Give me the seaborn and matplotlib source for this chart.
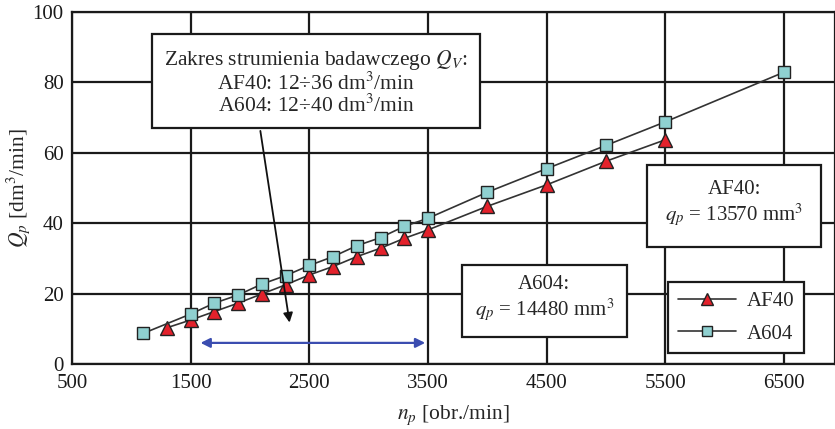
import matplotlib
matplotlib.use("Agg")
import matplotlib.pyplot as plt
import seaborn as sns
import pandas as pd

# ---- data ----
n_af40 = [1300, 1500, 1700, 1900, 2100, 2300, 2500, 2700, 2900, 3100, 3300, 3500, 4000, 4500, 5000, 5500]
q_af40 = [10.3, 12.5, 14.9, 17.3, 19.9, 22.5, 25.3, 27.7, 30.5, 32.9, 35.7, 38.1, 44.8, 50.9, 57.6, 63.7]
n_a604 = [1100, 1500, 1700, 1900, 2100, 2300, 2500, 2700, 2900, 3100, 3300, 3500, 4000, 4500, 5000, 5500, 6500]
q_a604 = [8.7, 14.2, 17.3, 19.6, 22.7, 25.1, 28.0, 30.5, 33.6, 35.9, 39.1, 41.4, 48.8, 55.5, 62.1, 68.8, 82.9]
x_ticks = [500, 1500, 2500, 3500, 4500, 5500, 6500]
y_ticks = [0, 20, 40, 60, 80, 100]

sns.set_theme(style="white")
plt.rcParams['font.family'] = ['Liberation Serif', 'DejaVu Serif']
plt.rcParams['mathtext.fontset'] = 'stix'

df1 = pd.DataFrame({"n": n_af40, "Q": q_af40})
df2 = pd.DataFrame({"n": n_a604, "Q": q_a604})

fig = plt.figure(figsize=(8.35, 4.29), dpi=100)
ax = fig.add_axes([0.0862, 0.1515, 0.9138, 0.8205])

sns.lineplot(data=df1, x="n", y="Q", ax=ax, color="#333333", lw=1.2,
             marker="^", markersize=10, markerfacecolor="#e3212b",
             markeredgecolor="#222222", markeredgewidth=1.0, label="AF40", zorder=4)
sns.lineplot(data=df2, x="n", y="Q", ax=ax, color="#333333", lw=1.2,
             marker="s", markersize=9, markerfacecolor="#8fd0d0",
             markeredgecolor="#222222", markeredgewidth=1.0, label="A604", zorder=4)

ax.set_xlim(500, 6930)
ax.set_ylim(0, 100)
ax.set_xticks(x_ticks)
ax.set_yticks(y_ticks)
ax.grid(True, color="#1a1a1a", lw=1.6)
ax.set_axisbelow(True)
for s in ax.spines.values():
    s.set_color("#1a1a1a")
    s.set_linewidth(1.6)
ax.tick_params(axis="both", labelsize=15, length=0, colors="#1a1a1a")
ax.tick_params(axis="x", pad=7)
ax.tick_params(axis="y", pad=6)

ax.set_xlabel(r"$n_p$ [obr./min]", fontsize=15.5, labelpad=8)
ax.set_ylabel(r"$Q_p$ [dm$^3$/min]", fontsize=15.5)
ax.yaxis.set_label_coords(-0.053, 0.5)

ax.text(2556, 80, "Zakres strumienia badawczego $Q_V$:\nAF40: 12÷36 dm$^3$/min\nA604: 12÷40 dm$^3$/min",
        ha="center", va="center", fontsize=15.5, bbox=dict(boxstyle="square,pad=0.55", fc="white", ec="#1a1a1a", lw=1.6),
        linespacing=1.0, zorder=6)
ax.text(6081, 45.4, "AF40:\n$q_p$ = 13570 mm$^3$", ha="center", va="center", linespacing=1.15,
        fontsize=15, bbox=dict(boxstyle="square,pad=0.85", fc="white", ec="#1a1a1a", lw=1.6), zorder=6)
ax.text(4481, 18.3, "A604:\n$q_p$ = 14480 mm$^3$", ha="center", va="center", linespacing=1.15,
        fontsize=15, bbox=dict(boxstyle="square,pad=0.6", fc="white", ec="#1a1a1a", lw=1.6), zorder=6)

ax.annotate("", xy=(2337, 11.0), xytext=(2084, 67.0),
            arrowprops=dict(arrowstyle="-|>", color="#111111", lw=1.3, mutation_scale=14), zorder=5)
ax.annotate("", xy=(3500, 6.0), xytext=(1560, 6.0),
            arrowprops=dict(arrowstyle="<|-|>", color="#3b4db0", lw=1.6, mutation_scale=14), zorder=5)

leg = ax.legend(loc="lower left", bbox_to_anchor=(0.768, 0.002), fontsize=15, frameon=True,
                fancybox=False, framealpha=1, edgecolor="#1a1a1a", borderpad=0.45,
                labelspacing=0.6, handlelength=2.8, handletextpad=0.5, markerscale=0.85)
leg.get_frame().set_linewidth(1.6)
leg.set_zorder(7)

fig.savefig("out.png", dpi=100)
